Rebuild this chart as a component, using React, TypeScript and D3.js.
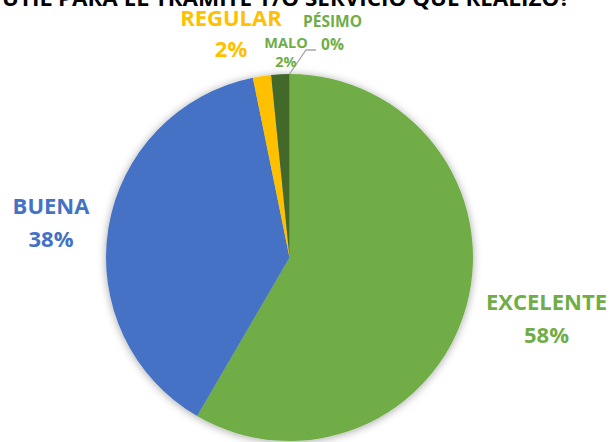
import React from "react";
import * as d3 from "d3";

const categories = ["EXCELENTE", "BUENA", "REGULAR", "MALO", "PÉSIMO"];
const values = [58.4, 38.4, 1.6, 1.6, 0];
const percentLabels = ["58%", "38%", "2%", "2%", "0%"];
const titleText = "ÚTIL PARA EL TRÁMITE Y/O SERVICIO QUE REALIZÓ?";

const sliceColors = ["#70AD47", "#4472C4", "#FFC000", "#43682B", "#9BC57E"];
const labelColors = ["#70AD47", "#4472C4", "#FFC000", "#70AD47", "#70AD47"];
// label layout: center x, baseline of name, baseline of percent, font size
const labelLayout = [
  { x: 546.5, y1: 310, y2: 343, fs: 22 },
  { x: 51, y1: 214, y2: 247, fs: 22 },
  { x: 231, y1: 26, y2: 57, fs: 22 },
  { x: 286, y1: 48, y2: 67, fs: 14.5 },
  { x: 332.5, y1: 27, y2: 50, fs: 15.5 },
];

const W = 613;
const H = 442;
const cx = 289.5;
const cy = 257.5;
const R = 183.5;

export default function App() {
  const pie = d3
    .pie<number>()
    .sort(null)
    .startAngle(0)
    .endAngle(2 * Math.PI)(values);
  const arc = d3.arc<d3.PieArcDatum<number>>().innerRadius(0).outerRadius(R);

  const pes = pie[4];
  const a = pes.startAngle;
  const p0: [number, number] = [cx + R * Math.sin(a), cy - R * Math.cos(a)];
  const leader = d3.line()([p0, [306, 50], [316, 50]]);

  const font = "'Open Sans', 'Noto Sans', sans-serif";

  return (
    <div style={{ position: "fixed", left: 0, top: 0 }}>
      <svg width={W} height={H} style={{ display: "block", background: "#fff" }}>
        <defs>
          <filter id="shadow" x="-20%" y="-20%" width="140%" height="140%">
            <feDropShadow dx="0" dy="1" stdDeviation="4" floodColor="#000" floodOpacity="0.35" />
          </filter>
        </defs>
        <text
          x={2}
          y={6}
          fontFamily={font}
          fontWeight="bold"
          fontSize={22}
          fill="#000"
          textLength={568}
          lengthAdjust="spacingAndGlyphs"
        >
          {titleText}
        </text>
        <g transform={`translate(${cx},${cy})`} filter="url(#shadow)">
          {pie.map((d, i) => (
            <path key={categories[i]} d={arc(d) || ""} fill={sliceColors[i]} />
          ))}
        </g>
        <path d={leader || ""} fill="none" stroke="#A6A6A6" strokeWidth={1.3} />
        {categories.map((c, i) => {
          const L = labelLayout[i];
          return (
            <g key={c} fontFamily={font} fontWeight="bold" fill={labelColors[i]} textAnchor="middle" fontSize={L.fs}>
              <text x={L.x} y={L.y1}>{c}</text>
              <text x={L.x} y={L.y2}>{percentLabels[i]}</text>
            </g>
          );
        })}
      </svg>
    </div>
  );
}
